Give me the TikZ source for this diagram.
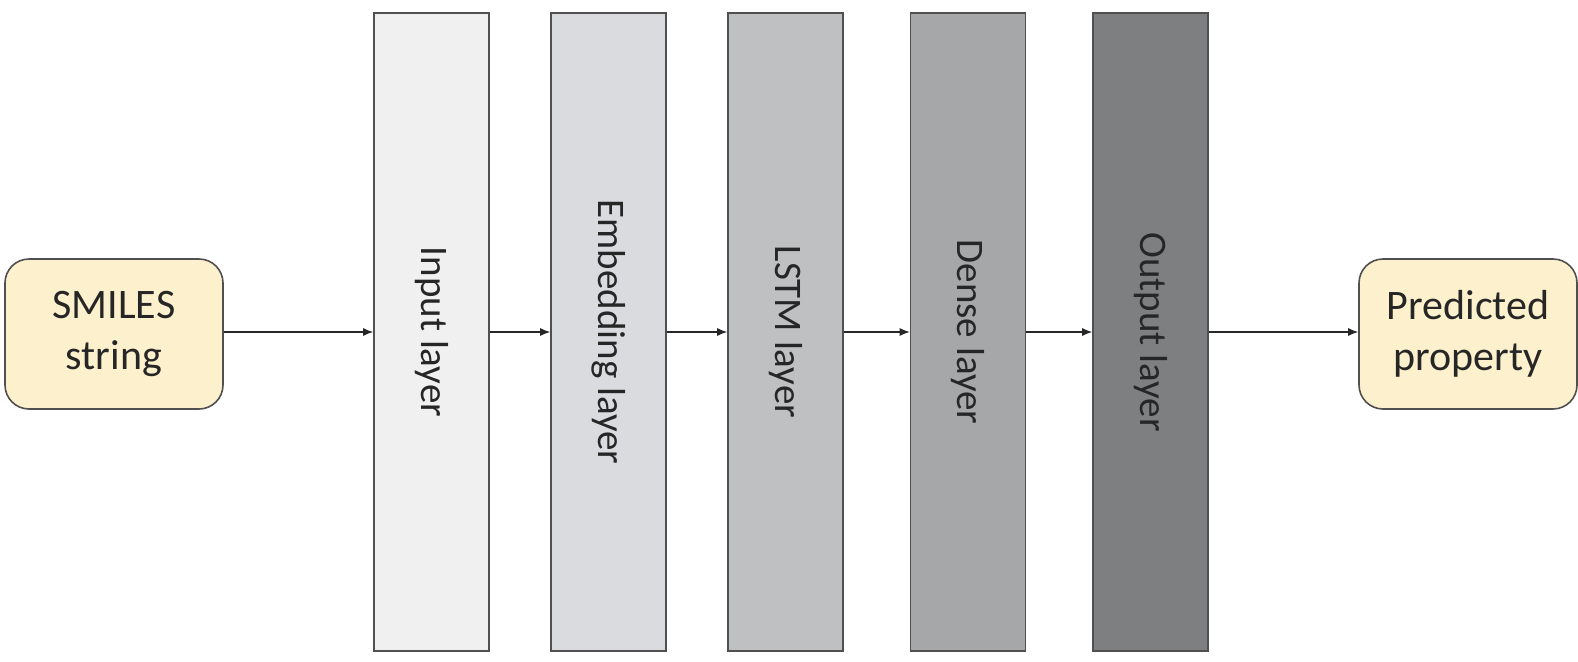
\documentclass[tikz,border=0pt]{standalone}
\usepackage{fontspec}
\setmainfont{Carlito}
\usetikzlibrary{arrows.meta,positioning}

\definecolor{termfill}{HTML}{FDF0CC}
\definecolor{edgegray}{HTML}{505050}
\definecolor{inputfill}{HTML}{F0F0F0}
\definecolor{embedfill}{HTML}{D9DBDE}
\definecolor{lstmfill}{HTML}{BEC0C2}
\definecolor{densefill}{HTML}{A5A7A9}
\definecolor{outfill}{HTML}{7D7F81}
\definecolor{inkgray}{HTML}{262626}

\begin{document}
\begin{tikzpicture}[
  x=0.5pt,y=0.5pt,
  term/.style={draw=edgegray,fill=termfill,rounded corners=12pt,line width=0.8pt,align=center,
    minimum width=109pt,minimum height=75pt,inner sep=0pt,text=inkgray,
    font=\fontsize{21}{25.5}\selectfont},
  layer/.style={draw=edgegray,line width=0.8pt,minimum width=57.5pt,minimum height=319pt,inner sep=0pt},
  lbl/.style={rotate=-90,text=inkgray,font=\fontsize{19.5}{22}\selectfont},
  arr/.style={-{Latex[length=5pt,width=4pt]},line width=0.6pt,color=black!85}
]
\useasboundingbox (0,0) rectangle (1578,661);
\node[term] (smiles) at (114,327) {SMILES\\string};
\node[layer,fill=inputfill] (input) at (431.5,329) {};
\node[layer,fill=embedfill] (embed) at (608.5,329) {};
\node[layer,fill=lstmfill] (lstm) at (785.5,329) {};
\node[layer,fill=densefill] (dense) at (968,329) {};
\node[layer,fill=outfill] (output) at (1150.5,329) {};
\node[term] (pred) at (1468,327) {Predicted\\property};
\node[lbl] at (input) {Input layer};
\node[lbl] at (embed) {Embedding layer};
\node[lbl] at (lstm) {LSTM layer};
\node[lbl] at (dense) {Dense layer};
\node[lbl] at (output) {Output layer};
\draw[arr] (smiles.east |- input.west) -- (input.west);
\draw[arr] (input.east) -- (embed.west);
\draw[arr] (embed.east) -- (lstm.west);
\draw[arr] (lstm.east) -- (dense.west);
\draw[arr] (dense.east) -- (output.west);
\draw[arr] (output.east) -- (pred.west |- output.east);
\end{tikzpicture}
\end{document}
